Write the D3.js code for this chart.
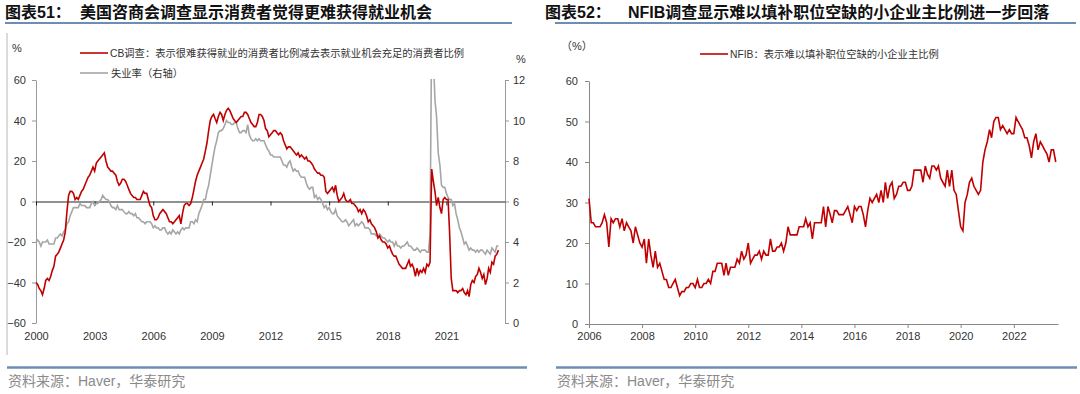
<!DOCTYPE html>
<html>
<head>
<meta charset="utf-8">
<script src="https://cdn.jsdelivr.net/npm/d3@7"></script>
<style>
  body { margin: 0; background: #fff; }
  svg { display: block; font-family: "Liberation Sans", "Noto Sans CJK SC", sans-serif; }
</style>
</head>
<body>
<svg id="chart" width="1080" height="394"></svg>
<script>
// CB: share saying jobs hard to get minus jobs plentiful, monthly from 2000-01
var cbValues = [
  -40,-41,-43,-44,-46,-43,-39,-38,-39,-37,-34,-32,   // 2000
  -27,-26,-25,-23,-21,-19,-15,-5,3,5,5,4,            // 2001
  1,2,1,3,5,6,8,10,12,13,15,17,                      // 2002
  15,19,20,21,22,23,24,20,17,16,15,15,               // 2003
  14,13,10,8,9,11,11,10,8,6,4,3,                     // 2004
  2,2,1,1,1,3,5,4,4,1,-2,-3,                         // 2005
  -7,-9,-9,-8,-6,-5,-4,-5,-6,-8,-10,-10,             // 2006
  -11,-10,-9,-8,-7,-11,-6,-2,-1,-1,-2,-1,            // 2007
  2,6,10,13,15,17,19,21,25,29,35,40,                 // 2008
  42,43,41,39,42,44,43,40,43,45,46,45,               // 2009
  43,41,40,39,40,41,42,42,44,44,43,41,               // 2010
  39,38,37,37,39,43,43,42,40,36,35,32,               // 2011
  33,34,35,35,34,33,34,33,30,28,26,27,               // 2012
  27,26,25,24,23,24,22,23,22,21,22,20,               // 2013
  20,19,18,16,15,14,14,13,13,12,5,4,                 // 2014
  5,6,7,5,8,3,0,1,2,4,1,0,                           // 2015
  0,1,-1,-1,-2,-3,-5,-4,-6,-4,-5,-7,                 // 2016
  -10,-9,-11,-12,-13,-15,-18,-17,-19,-20,-20,-21,    // 2017
  -23,-22,-24,-26,-27,-27,-29,-31,-32,-33,-33,-33,   // 2018
  -31,-29,-32,-31,-33,-37,-33,-36,-34,-35,-33,-35,   // 2019
  -31,-32,-30,16,10,5,-2,2,-3,-6,1,2,                // 2020
  1,1,-15,-38,-44,-44,-44,-45,-44,-44,-43,-45,       // 2021
  -46,-44,-47,-41,-39,-40,-37,-36,-33,-35,-38,-36,   // 2022
  -41,-38,-33,-35,-30,-31,-27,-26,-24                // 2023
];

// unemployment rate (right axis), monthly from 2000-01
var urValues = [
  4.0,4.1,4.0,3.8,4.0,4.0,4.0,4.1,3.9,3.9,3.9,3.9,
  4.2,4.2,4.3,4.4,4.3,4.5,4.6,4.9,5.0,5.3,5.5,5.7,
  5.7,5.7,5.7,5.9,5.8,5.8,5.8,5.7,5.7,5.7,5.9,6.0,
  5.8,5.9,5.9,6.0,6.1,6.3,6.2,6.1,6.1,6.0,5.8,5.7,
  5.7,5.6,5.8,5.6,5.6,5.6,5.5,5.4,5.4,5.5,5.4,5.4,
  5.3,5.4,5.2,5.2,5.1,5.0,5.0,4.9,5.0,5.0,5.0,4.9,
  4.7,4.8,4.7,4.7,4.6,4.6,4.7,4.7,4.5,4.4,4.5,4.4,
  4.6,4.5,4.4,4.5,4.4,4.6,4.7,4.6,4.7,4.7,4.7,5.0,
  5.0,4.9,5.1,5.0,5.4,5.6,5.8,6.1,6.1,6.5,6.8,7.3,
  7.8,8.3,8.7,9.0,9.4,9.5,9.5,9.6,9.8,10.0,9.9,9.9,
  9.8,9.8,9.9,9.9,9.6,9.4,9.4,9.5,9.5,9.4,9.8,9.3,
  9.1,9.0,9.0,9.1,9.0,9.1,9.0,9.0,9.0,8.8,8.6,8.5,
  8.3,8.3,8.2,8.2,8.2,8.2,8.2,8.0,7.8,7.8,7.7,7.9,
  8.0,7.7,7.5,7.6,7.5,7.5,7.3,7.2,7.2,7.2,6.9,6.7,
  6.6,6.7,6.7,6.2,6.3,6.1,6.2,6.1,5.9,5.7,5.8,5.6,
  5.7,5.5,5.4,5.4,5.6,5.3,5.2,5.1,5.0,5.0,5.1,5.0,
  4.8,4.9,5.0,5.1,4.8,4.9,4.8,4.9,5.0,4.9,4.7,4.7,
  4.7,4.6,4.4,4.4,4.4,4.3,4.3,4.4,4.3,4.2,4.2,4.1,
  4.0,4.1,4.0,4.0,3.8,4.0,3.8,3.8,3.7,3.8,3.8,3.9,
  4.0,3.8,3.8,3.7,3.6,3.6,3.7,3.6,3.5,3.6,3.6,3.6,
  3.5,3.5,4.4,14.8,13.2,11.0,10.2,8.4,7.8,6.8,6.7,6.7,
  6.4,6.2,6.1,6.1,5.8,5.9,5.4,5.1,4.7,4.5,4.2,3.9,
  4.0,3.8,3.6,3.7,3.6,3.6,3.5,3.6,3.5,3.6,3.6,3.5,
  3.4,3.6,3.5,3.4,3.7,3.6,3.5,3.8,3.8
];

// NFIB: share of owners with job openings hard to fill, monthly from 2006-01
var nfibValues = [
  31,25,25,24,24,24,25,27,25,19,26,25,    // 2006
  26,26,24,26,23,25,24,23,20,24,22,20,    // 2007
  19,21,15,21,17,14,18,14,15,13,11,11,    // 2008
  9,9,10,11,9,7,8,8,9,9,10,10,            // 2009
  9,11,9,9,10,10,11,10,13,13,15,15,       // 2010
  15,12,15,12,14,14,14,16,15,18,16,17,    // 2011
  20,15,16,17,17,18,16,18,17,17,21,18,    // 2012
  18,19,19,20,18,20,24,22,22,22,22,24,    // 2013
  24,24,26,24,25,21,25,25,25,25,29,24,    // 2014
  29,27,25,28,28,27,27,27,28,29,27,25,    // 2015
  29,28,29,29,27,24,28,31,30,31,32,30,    // 2016
  33,30,35,31,34,35,31,32,34,34,35,35,    // 2017
  33,33,34,38,38,38,38,35,39,37,36,39,    // 2018
  39,38,39,36,35,34,38,34,38,33,32,28,    // 2019
  24,23,30,32,35,36,34,33,32,33,40,43,    // 2020
  45,48,46,50,51,51,48,49,48,47,48,47,    // 2021
  47,51,50,49,48,46,46,44,41,45,47,43,    // 2022
  45,44,43,42,40,43,43,40                 // 2023
];

var leftYearTicks = [2000, 2003, 2006, 2009, 2012, 2015, 2018, 2021];
var rightYearTicks = [2006, 2008, 2010, 2012, 2014, 2016, 2018, 2020, 2022];
var cbTicks = [-60, -40, -20, 0, 20, 40, 60];
var urTicks = [0, 2, 4, 6, 8, 10, 12];
var nfibTicks = [0, 10, 20, 30, 40, 50, 60];

var svg = d3.select("#chart");
var red = "#c00000", grey = "#a6a6a6", bar = "#6f8db3";

function monthly(values, year) {
  return values.map(function(v, i) { return {date: new Date(year, i, 1), value: v}; });
}
var cbData = monthly(cbValues, 2000);
var urData = monthly(urValues, 2000);
var nfibData = monthly(nfibValues, 2006);

function styleAxis(g, domainColor) {
  g.select(".domain").attr("stroke", domainColor);
  g.selectAll(".tick line").attr("stroke", domainColor);
  g.selectAll("text").attr("fill", "#333").style("font-size", "11px")
    .style("font-family", "'Liberation Sans', Arial, sans-serif");
}

// ---------- titles, rules, sources ----------
svg.append("text").attr("x", 5).attr("y", 18).text("图表51：")
  .style("font-size", "16px").style("font-weight", "bold").attr("fill", "#111");
svg.append("text").attr("x", 80).attr("y", 18).text("美国咨商会调查显示消费者觉得更难获得就业机会")
  .style("font-size", "16px").style("font-weight", "bold").attr("fill", "#111");
svg.append("text").attr("x", 545).attr("y", 18).text("图表52：")
  .style("font-size", "16px").style("font-weight", "bold").attr("fill", "#111");
svg.append("text").attr("x", 628).attr("y", 18).text("NFIB调查显示难以填补职位空缺的小企业主比例进一步回落")
  .style("font-size", "16px").style("font-weight", "bold").attr("fill", "#111");

[[5, 512], [555, 1076]].forEach(function(r) {
  svg.append("line").attr("x1", r[0]).attr("x2", r[1]).attr("y1", 23).attr("y2", 23)
    .attr("stroke", bar).attr("stroke-width", 2);
});
[[7, 527], [556, 1077]].forEach(function(r) {
  svg.append("line").attr("x1", r[0]).attr("x2", r[1]).attr("y1", 367.5).attr("y2", 367.5)
    .attr("stroke", bar).attr("stroke-width", 2.5);
});
svg.append("line").attr("x1", 7).attr("x2", 7).attr("y1", 33).attr("y2", 355)
  .attr("stroke", "#cfcfcf").attr("stroke-width", 1.5);

svg.append("text").attr("x", 8).attr("y", 386).text("资料来源：Haver，华泰研究")
  .style("font-size", "14px").attr("fill", "#8a8a8a");
svg.append("text").attr("x", 557).attr("y", 386).text("资料来源：Haver，华泰研究")
  .style("font-size", "14px").attr("fill", "#8a8a8a");

// ---------- left chart ----------
var x1 = d3.scaleTime().domain([new Date(2000, 0, 1), new Date(2024, 0, 1)]).range([36, 505]);
var y1 = d3.scaleLinear().domain([-60, 60]).range([323, 80]);
var y1r = d3.scaleLinear().domain([0, 12]).range([323, 80]);

svg.append("defs").append("clipPath").attr("id", "clipL")
  .append("rect").attr("x", 30).attr("y", 79).attr("width", 480).attr("height", 246);

var gl = svg.append("g").call(d3.axisLeft(y1).tickValues(cbTicks).tickSize(4).tickSizeOuter(0).tickPadding(6))
  .attr("transform", "translate(36,0)");
styleAxis(gl, "#999");

var gr = svg.append("g").call(d3.axisRight(y1r).tickValues(urTicks).tickSize(4).tickSizeOuter(0).tickPadding(4))
  .attr("transform", "translate(505,0)");
styleAxis(gr, "#999");

var g0 = svg.append("g").attr("transform", "translate(0," + y1(0) + ")")
  .call(d3.axisBottom(x1).tickValues(leftYearTicks.map(function(y) { return new Date(y, 0, 1); }))
    .tickFormat(d3.timeFormat("%Y")).tickSize(4).tickSizeOuter(0));
styleAxis(g0, "#222");
g0.selectAll("text").attr("y", 323 - y1(0) + 9);

var plotL = svg.append("g").attr("clip-path", "url(#clipL)");
plotL.append("path").datum(urData)
  .attr("fill", "none").attr("stroke", grey).attr("stroke-width", 1.6)
  .attr("d", d3.line().x(function(d) { return x1(d.date); }).y(function(d) { return y1r(d.value); }));
plotL.append("path").datum(cbData)
  .attr("fill", "none").attr("stroke", red).attr("stroke-width", 1.6)
  .attr("d", d3.line().x(function(d) { return x1(d.date); }).y(function(d) { return y1(d.value); }));

svg.append("text").attr("x", 12).attr("y", 52).text("%").style("font-size", "11px").attr("fill", "#333");
svg.append("text").attr("x", 516).attr("y", 63).text("%").style("font-size", "11px").attr("fill", "#333");

svg.append("line").attr("x1", 80).attr("x2", 108).attr("y1", 53).attr("y2", 53)
  .attr("stroke", red).attr("stroke-width", 1.6);
svg.append("text").attr("x", 110).attr("y", 57)
  .text("CB调查：表示很难获得就业的消费者比例减去表示就业机会充足的消费者比例")
  .style("font-size", "10.3px").attr("fill", "#333");
svg.append("line").attr("x1", 80).attr("x2", 108).attr("y1", 73).attr("y2", 73)
  .attr("stroke", grey).attr("stroke-width", 1.6);
svg.append("text").attr("x", 111).attr("y", 77).text("失业率（右轴）")
  .style("font-size", "10.3px").attr("fill", "#333");

// ---------- right chart ----------
var x2 = d3.scaleTime().domain([new Date(2006, 0, 1), new Date(2023, 8, 1)]).range([589, 1058]);
var y2 = d3.scaleLinear().domain([0, 60]).range([324, 81]);

var gl2 = svg.append("g").attr("transform", "translate(589,0)")
  .call(d3.axisLeft(y2).tickValues(nfibTicks).tickSize(4).tickSizeOuter(0).tickPadding(7));
styleAxis(gl2, "#888");

var gb2 = svg.append("g").attr("transform", "translate(0,324)")
  .call(d3.axisBottom(x2).tickValues(rightYearTicks.map(function(y) { return new Date(y, 0, 1); }))
    .tickFormat(d3.timeFormat("%Y")).tickSize(4).tickSizeOuter(0).tickPadding(4));
styleAxis(gb2, "#888");

svg.append("path").datum(nfibData)
  .attr("fill", "none").attr("stroke", red).attr("stroke-width", 1.6)
  .attr("d", d3.line().x(function(d) { return x2(d.date); }).y(function(d) { return y2(d.value); }));

svg.append("text").attr("x", 561).attr("y", 50).text("（%）").style("font-size", "11px").attr("fill", "#333");

svg.append("line").attr("x1", 700).attr("x2", 728).attr("y1", 54).attr("y2", 54)
  .attr("stroke", red).attr("stroke-width", 1.6);
svg.append("text").attr("x", 730).attr("y", 58).text("NFIB：表示难以填补职位空缺的小企业主比例")
  .style("font-size", "10.3px").attr("fill", "#333");
</script>
</body>
</html>
